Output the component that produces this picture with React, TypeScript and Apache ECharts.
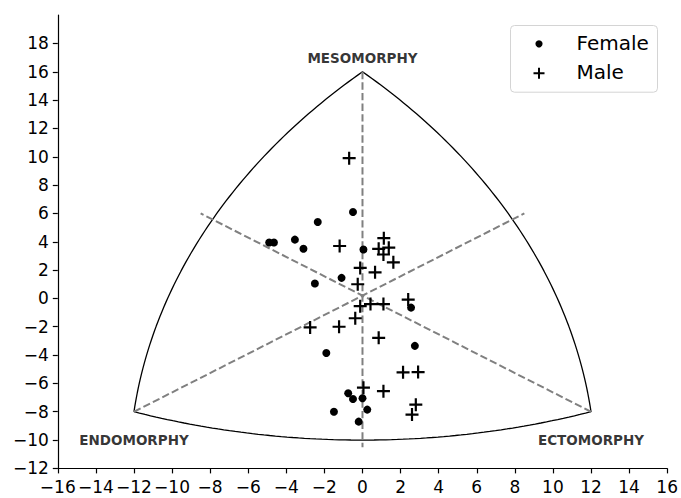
import React, { useEffect, useRef } from "react";
import * as echarts from "echarts";

// ---- data ----
const xTicks = [-16, -14, -12, -10, -8, -6, -4, -2, 0, 2, 4, 6, 8, 10, 12, 14, 16];
const yTicks = [-12, -10, -8, -6, -4, -2, 0, 2, 4, 6, 8, 10, 12, 14, 16, 18];

const femaleX = [-0.5, -2.35, -4.9, -4.65, -3.55, -3.1, 0.05, -1.1, -2.5, 2.55, -1.9, 2.75, -0.75, -0.5, 0.0, -1.5, 0.25, -0.2];
const femaleY = [6.1, 5.4, 3.95, 3.95, 4.15, 3.5, 3.45, 1.45, 1.05, -0.65, -3.85, -3.35, -6.7, -7.1, -7.05, -8.0, -7.85, -8.7];

const maleX = [-0.7, -1.2, 1.12, 0.85, 1.38, 1.1, 1.62, -0.12, 0.66, -0.25, -0.12, 0.42, 1.1, 2.4, -2.75, -1.23, -0.38, 0.85, 2.13, 2.92, 0.05, 1.1, 2.8, 2.6];
const maleY = [9.9, 3.7, 4.25, 3.5, 3.58, 3.1, 2.55, 2.15, 1.84, 1.0, -0.55, -0.4, -0.4, -0.08, -2.05, -2.0, -1.4, -2.78, -5.22, -5.2, -6.3, -6.55, -7.5, -8.2];

// triangle vertices (mesomorphy, endomorphy, ectomorphy)
const vertexTop = [0, 16];
const vertexLeft = [-12, -8];
const vertexRight = [12, -8];
// arc centres of the outline
const leftArcCenter = [26.7, -12.35];
const rightArcCenter = [-26.7, -12.35];
const bottomArcCenter = [0, 27];

// dashed axes of the somatochart
const dashMeso = [[0, 16], [0, -10.5]];
const dashEndo = [[-12, -8], [8.5, 6]];
const dashEcto = [[12, -8], [-8.5, 6]];

const cornerLabels = ["MESOMORPHY", "ENDOMORPHY", "ECTOMORPHY"];
const cornerLabelPos = [[0, 17], [-12, -10], [12, -10]];

const seriesNames = ["Female", "Male"];

// ---- helpers ----
function arc(from: number[], to: number[], c: number[], n = 80): number[][] {
  const r = Math.hypot(from[0] - c[0], from[1] - c[1]);
  const a0 = Math.atan2(from[1] - c[1], from[0] - c[0]);
  let a1 = Math.atan2(to[1] - c[1], to[0] - c[0]);
  if (a1 - a0 > Math.PI) a1 -= 2 * Math.PI;
  if (a0 - a1 > Math.PI) a1 += 2 * Math.PI;
  const pts: number[][] = [];
  for (let i = 0; i <= n; i++) {
    const a = a0 + ((a1 - a0) * i) / n;
    pts.push([c[0] + r * Math.cos(a), c[1] + r * Math.sin(a)]);
  }
  pts[0] = [from[0], from[1]];
  pts[n] = [to[0], to[1]];
  return pts;
}

const fmt = (v: number) => (v < 0 ? "\u2212" + Math.abs(v) : String(v));

const plusPath =
  "path://M5.4,0L7.6,0L7.6,5.4L13,5.4L13,7.6L7.6,7.6L7.6,13L5.4,13L5.4,7.6L0,7.6L0,5.4L5.4,5.4Z";

const FONT = "DejaVu Sans";

export default function App() {
  const ref = useRef<HTMLDivElement>(null);

  useEffect(() => {
    if (!ref.current) return;
    const chart = echarts.init(ref.current, undefined, { renderer: "svg" });

    const outline = [
      ...arc(vertexLeft, vertexTop, leftArcCenter),
      ...arc(vertexTop, vertexRight, rightArcCenter).slice(1),
      ...arc(vertexRight, vertexLeft, bottomArcCenter).slice(1),
    ];

    const dashStyle = { color: "#808080", width: 2, type: [7.4, 3.2] as any };
    const lineBase = {
      type: "line" as const,
      symbol: "none",
      silent: true,
      animation: false,
    };

    // legend drawn as graphic (box, markers, texts)
    const lgX = 539;
    const lgY = [43.8, 73.2];
    const legendGraphic: any[] = [
      {
        type: "rect",
        left: 510,
        top: 25,
        z: 10,
        shape: { width: 147, height: 66.7, r: 4 },
        style: { fill: "rgba(255,255,255,0.8)", stroke: "#d4d4d4", lineWidth: 1 },
      },
      {
        type: "circle",
        z: 11,
        shape: { cx: lgX, cy: lgY[0], r: 3.6 },
        style: { fill: "#000" },
      },
      {
        type: "polygon",
        z: 11,
        shape: {
          points: [
            [lgX - 1, lgY[1] - 5.5], [lgX + 1, lgY[1] - 5.5], [lgX + 1, lgY[1] - 1],
            [lgX + 5.5, lgY[1] - 1], [lgX + 5.5, lgY[1] + 1], [lgX + 1, lgY[1] + 1],
            [lgX + 1, lgY[1] + 5.5], [lgX - 1, lgY[1] + 5.5], [lgX - 1, lgY[1] + 1],
            [lgX - 5.5, lgY[1] + 1], [lgX - 5.5, lgY[1] - 1], [lgX - 1, lgY[1] - 1],
          ],
        },
        style: { fill: "#000" },
      },
      ...seriesNames.map((n, i) => ({
        type: "text",
        z: 11,
        x: 576.5,
        y: lgY[i] - 1,
        style: {
          text: n,
          fill: "#000",
          font: `20px "${FONT}"`,
          textVerticalAlign: "middle",
          textAlign: "left",
        },
      })),
    ];

    chart.setOption({
      animation: false,
      backgroundColor: "#ffffff",
      grid: { left: 57.8, right: 13.8, top: 15.1, bottom: 29.6, containLabel: false },
      xAxis: {
        type: "value",
        min: -16,
        max: 16,
        interval: 2,
        axisLine: { show: true, onZero: false, lineStyle: { color: "#000", width: 1.2 } },
        axisTick: { show: true, length: 5, lineStyle: { color: "#000", width: 1.2 } },
        splitLine: { show: false },
        axisLabel: {
          color: "#000",
          fontFamily: FONT,
          fontSize: 17,
          margin: 10,
          formatter: fmt,
          customValues: xTicks,
        },
      },
      yAxis: {
        type: "value",
        min: -12,
        max: 20,
        interval: 2,
        axisLine: { show: true, onZero: false, lineStyle: { color: "#000", width: 1.2 } },
        axisTick: { show: true, length: 5, lineStyle: { color: "#000", width: 1.2 }, customValues: yTicks },
        splitLine: { show: false },
        axisLabel: {
          color: "#000",
          fontFamily: FONT,
          fontSize: 17,
          margin: 9,
          formatter: (v: number) => (v >= 20 ? "" : fmt(v)),
          customValues: yTicks,
        },
      },
      graphic: legendGraphic,
      series: [
        {
          ...lineBase,
          name: "outline",
          data: outline,
          lineStyle: { color: "#000", width: 1.3 },
          z: 1,
        },
        { ...lineBase, name: "dash1", data: dashMeso, lineStyle: dashStyle, z: 2 },
        { ...lineBase, name: "dash2", data: dashEndo, lineStyle: dashStyle, z: 2 },
        { ...lineBase, name: "dash3", data: dashEcto, lineStyle: dashStyle, z: 2 },
        {
          type: "scatter",
          name: seriesNames[0],
          data: femaleX.map((x, i) => [x, femaleY[i]]),
          symbol: "circle",
          symbolSize: 8,
          itemStyle: { color: "#000", opacity: 1 },
          z: 3,
        },
        {
          type: "scatter",
          name: seriesNames[1],
          data: maleX.map((x, i) => [x, maleY[i]]),
          symbol: plusPath,
          symbolSize: 13,
          itemStyle: { color: "#000", opacity: 1 },
          z: 3,
        },
        {
          type: "scatter",
          name: "labels",
          silent: true,
          symbolSize: 0,
          data: cornerLabelPos.map((p, i) => ({ value: p, name: cornerLabels[i] })),
          label: {
            show: true,
            position: "inside",
            formatter: (p: any) => p.name,
            color: "#000",
            fontFamily: FONT,
            fontWeight: "bold",
            fontSize: 13.5,
          },
          z: 4,
        },
      ],
    });

    return () => chart.dispose();
  }, []);

  return (
    <div
      ref={ref}
      style={{ position: "fixed", left: 0, top: 0, width: 681, height: 498, background: "#fff" }}
    />
  );
}
